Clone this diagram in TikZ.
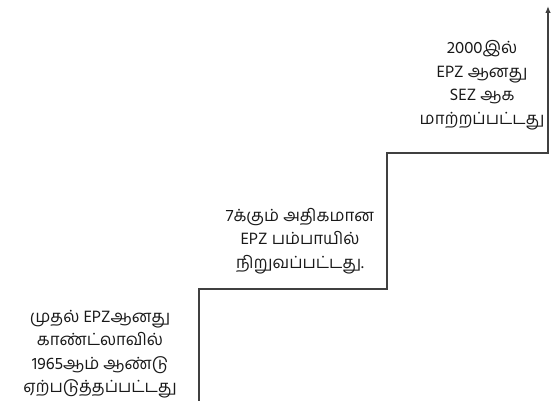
\documentclass[tikz,border=0pt]{standalone}
\usepackage{fontspec}
\newfontfamily\tamilfont[Script=Tamil]{Hind Madurai}
\usetikzlibrary{arrows.meta}
\tikzset{
  stair/.style={draw=black!75, line width=1.3pt},
  label/.style={align=center, font=\tamilfont\fontsize{16.8}{23.5}\selectfont, text=black!90, inner sep=0pt}
}
\begin{document}
\begin{tikzpicture}[x=1pt,y=1pt]
\useasboundingbox (0,0) rectangle (555,401);
\coordinate (s0) at (199,0);
\coordinate (s1) at (199,112);
\coordinate (s2) at (387,112);
\coordinate (s3) at (387,248);
\coordinate (s4) at (548,248);
\coordinate (s5) at (548,395);
\draw[stair, -{Latex[length=7pt,width=5.5pt]}] (s0) -- (s1) -- (s2) -- (s3) -- (s4) -- (s5);
\node[label] (t1) at (100,47) {முதல் EPZஆனது\\காண்ட்லாவில்\\1965ஆம் ஆண்டு\\ஏற்படுத்தப்பட்டது};
\node[label] (t2) at (300,160) {7க்கும் அதிகமான\\EPZ பம்பாயில்\\நிறுவப்பட்டது.};
\node[label] (t3) at (482,316) {2000இல்\\EPZ ஆனது\\SEZ ஆக\\மாற்றப்பட்டது};
\end{tikzpicture}
\end{document}
